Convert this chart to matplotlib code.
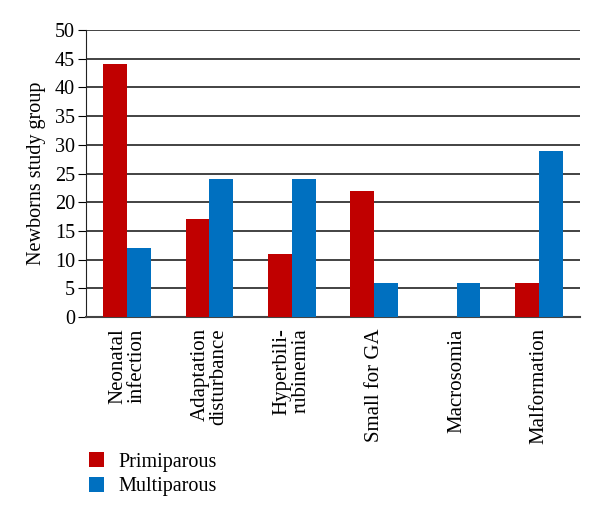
import numpy as np
import matplotlib
matplotlib.use("Agg")
import matplotlib.pyplot as plt

categories = ["Neonatal\ninfection", "Adaptation\ndisturbance", "Hyperbili-\nrubinemia",
              "Small for GA", "Macrosomia", "Malformation"]
primiparous = [44, 17, 11, 22, 0, 6]
multiparous = [12, 24, 24, 6, 6, 29]
yticks = [0, 5, 10, 15, 20, 25, 30, 35, 40, 45, 50]

plt.rcParams["font.family"] = ["Liberation Serif", "DejaVu Serif"]

fig = plt.figure(figsize=(6, 5.17), dpi=100)
ax = fig.add_axes([0.1433, 0.3868, 0.8234, 0.5552])

x = np.arange(len(categories))
w = 0.29
ax.bar(x - w / 2, primiparous, w, color="#C00000", label="Primiparous", zorder=3)
ax.bar(x + w / 2, multiparous, w, color="#0070C0", label="Multiparous", zorder=3)

ax.set_xlim(-0.5, len(categories) - 0.5)
ax.set_ylim(0, 50)
ax.set_yticks(yticks)
ax.yaxis.grid(True, color="#222222", linewidth=1.2, zorder=0)
ax.set_axisbelow(True)

for s in ["top", "right"]:
    ax.spines[s].set_visible(False)
ax.spines["left"].set_color("#222222")
ax.spines["bottom"].set_color("#444444")
ax.spines["bottom"].set_linewidth(1.5)

ax.set_xticks(x)
ax.set_xticklabels(categories, rotation=90, multialignment="right", fontsize=15,
                   linespacing=1.0)
ax.tick_params(axis="x", length=0, pad=8)
ax.tick_params(axis="y", length=6, labelsize=14.5, direction="out", pad=2)
ax.set_ylabel("Newborns study group", fontsize=14.5, labelpad=6)

handles, labels = ax.get_legend_handles_labels()
fig.legend(handles, labels, loc="upper left", bbox_to_anchor=(0.118, 0.16),
           frameon=False, fontsize=14.5, handlelength=0.75, handleheight=0.75,
           labelspacing=0.25, handletextpad=0.7)

fig.savefig("out.png", dpi=100)
